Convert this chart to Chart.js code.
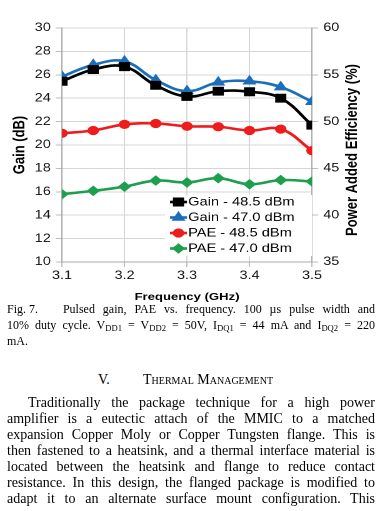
<!DOCTYPE html>
<html>
<head>
<meta charset="utf-8">
<script src="https://cdn.jsdelivr.net/npm/chart.js@4.4.0/dist/chart.umd.min.js"></script>
<style>
  html, body { margin: 0; padding: 0; background: #fff; }
  body { width: 391px; height: 511px; position: relative; overflow: hidden; }
  /* the figure in the scan is stretched sideways, so the chart is drawn narrow and widened */
  #chartBox { position: absolute; left: 0; top: 0; width: 313px; height: 305px; transform: scaleX(1.25); transform-origin: 0 0; }
  .txt { position: absolute; left: 7px; width: 368px; font-family: "Liberation Serif", "Times New Roman", serif; color: #000; }
  .caption { top: 301px; font-size: 12px; line-height: 16px; }
  .body { top: 395px; font-size: 14px; line-height: 16px; }
  .line { text-align: justify; text-align-last: justify; }
  .first { padding-left: 21px; }
  .left { text-align: left; text-align-last: left; }
  .fig { display: inline-block; width: 48px; text-align: left; text-align-last: left; white-space: nowrap; }
  sub { font-size: 0.72em; vertical-align: -0.22em; line-height: 0; }
  .head { position: absolute; top: 372px; font-family: "Liberation Serif", "Times New Roman", serif; font-size: 14px; line-height: 16px; }
  .sc { font-variant: small-caps; }
</style>
</head>
<body>
<div id="chartBox"><canvas id="gainChart"></canvas></div>

<div class="txt caption">
  <div class="line"><span class="fig">Fig. 7.</span> Pulsed gain, PAE vs. frequency. 100 µs pulse width and</div>
  <div class="line">10% duty cycle. V<sub>DD1</sub> = V<sub>DD2</sub> = 50V, I<sub>DQ1</sub> = 44 mA and I<sub>DQ2</sub> = 220</div>
  <div class="line left">mA.</div>
</div>

<div class="head" style="left:98px;">V.</div>
<div class="head sc" style="left:143px;">Thermal Management</div>

<div class="txt body">
  <div class="line first">Traditionally the package technique for a high power</div>
  <div class="line">amplifier is a eutectic attach of the MMIC to a matched</div>
  <div class="line">expansion Copper Moly or Copper Tungsten flange. This is</div>
  <div class="line">then fastened to a heatsink, and a thermal interface material is</div>
  <div class="line">located between the heatsink and flange to reduce contact</div>
  <div class="line">resistance. In this design, the flanged package is modified to</div>
  <div class="line">adapt it to an alternate surface mount configuration. This</div>
</div>

<script>
// Data
const freqs = [3.1, 3.15, 3.2, 3.25, 3.3, 3.35, 3.4, 3.45, 3.5];
const gain485 = [25.45, 26.45, 26.7, 25.1, 24.15, 24.6, 24.55, 24.0, 21.7];
const gain470 = [25.85, 26.85, 27.15, 25.55, 24.6, 25.35, 25.45, 24.95, 23.7];
const pae485 = [48.75, 49.05, 49.7, 49.8, 49.5, 49.45, 49.05, 49.2, 46.9];
const pae470 = [42.25, 42.6, 43.05, 43.7, 43.5, 43.95, 43.3, 43.75, 43.6];
const seriesLabels = ['Gain - 48.5 dBm', 'Gain - 47.0 dBm', 'PAE - 48.5 dBm', 'PAE - 47.0 dBm'];
const freqRange = [3.1, 3.5];
const gainRange = [10, 30];
const paeRange = [35, 60];
const rightTitle = 'Power Added Efficiency (%)';

Chart.defaults.font.family = '"Liberation Sans", Arial, sans-serif';
Chart.defaults.color = '#111';

function toPoints(values) {
  return values.map((v, i) => ({ x: freqs[i], y: v }));
}

function series(label, values, color, style, radius, axis) {
  return {
    label: label,
    data: toPoints(values),
    yAxisID: axis,
    borderColor: color,
    backgroundColor: color,
    borderWidth: 2.6,
    tension: 0.4,
    pointStyle: style,
    pointRadius: radius,
    pointBorderWidth: 1,
    pointBackgroundColor: color,
    pointBorderColor: color
  };
}

// Legend box sitting inside the plot, bottom right
const insideLegend = {
  id: 'insideLegend',
  afterDatasetsDraw(chart) {
    const ctx = chart.ctx;
    const area = chart.chartArea;
    ctx.save();
    ctx.fillStyle = '#fff';
    ctx.fillRect(132, 195, area.right - 132, 61);
    chart.data.datasets.forEach((ds, i) => {
      const y = 202 + i * 15.5;
      ctx.strokeStyle = ds.borderColor;
      ctx.fillStyle = ds.backgroundColor;
      ctx.lineWidth = 2.6;
      ctx.beginPath();
      ctx.moveTo(136, y);
      ctx.lineTo(149.6, y);
      ctx.stroke();
      ctx.lineWidth = 1;
      Chart.helpers.drawPoint(ctx, { pointStyle: ds.pointStyle, radius: ds.pointRadius, borderWidth: 1, rotation: 0 }, 142.8, y);
      ctx.fillStyle = '#000';
      ctx.font = '11.7px "Liberation Sans", Arial, sans-serif';
      ctx.textBaseline = 'middle';
      ctx.textAlign = 'left';
      ctx.fillText(ds.label, 150.5, y + 0.5);
    });
    // right axis title reads bottom to top
    ctx.translate(282, 150);
    ctx.rotate(-Math.PI / 2);
    ctx.font = 'bold 13px "Liberation Sans", Arial, sans-serif';
    ctx.textAlign = 'center';
    ctx.textBaseline = 'middle';
    ctx.fillStyle = '#000';
    ctx.fillText(rightTitle, 0, 0);
    ctx.restore();
  }
};

new Chart(document.getElementById('gainChart'), {
  type: 'line',
  data: {
    datasets: [
      series(seriesLabels[0], gain485, '#000000', 'rect', 5.6, 'y'),
      series(seriesLabels[1], gain470, '#1b6fba', 'triangle', 5.5, 'y'),
      series(seriesLabels[2], pae485, '#ee1c1c', 'circle', 4.1, 'y1'),
      series(seriesLabels[3], pae470, '#1e9f4e', 'rectRot', 4.6, 'y1')
    ]
  },
  options: {
    responsive: true,
    maintainAspectRatio: false,
    animation: false,
    devicePixelRatio: 2,
    layout: { padding: { top: 28, left: 0, right: 0, bottom: 0 } },
    plugins: {
      legend: { display: false },
      tooltip: { enabled: false }
    },
    scales: {
      x: {
        type: 'linear',
        min: freqRange[0],
        max: freqRange[1],
        afterFit(scale) { scale.height = 43; },
        ticks: {
          stepSize: 0.1,
          padding: 2,
          font: { size: 11.5 },
          callback: function(value) { return value.toFixed(1); }
        },
        grid: { color: '#d6d6d6', tickColor: '#bdbdbd', tickLength: 5 },
        border: { color: '#a8a8a8' },
        title: {
          display: true,
          text: 'Frequency (GHz)',
          color: '#000',
          font: { size: 10.5, weight: 'bold' },
          padding: { top: 0, bottom: 1.7 }
        }
      },
      y: {
        position: 'left',
        min: gainRange[0],
        max: gainRange[1],
        afterFit(scale) { scale.width = 49.6; },
        ticks: { stepSize: 2, padding: 4, font: { size: 11.5 } },
        grid: { color: '#d6d6d6', tickColor: '#bdbdbd', tickLength: 5 },
        border: { color: '#a8a8a8' },
        title: {
          display: true,
          text: 'Gain (dB)',
          color: '#000',
          font: { size: 13, weight: 'bold' },
          padding: { top: 8.2, bottom: 0 }
        }
      },
      y1: {
        position: 'right',
        min: paeRange[0],
        max: paeRange[1],
        afterFit(scale) { scale.width = 63.4; },
        ticks: { stepSize: 5, padding: 4, font: { size: 11.5 } },
        grid: { drawOnChartArea: false, tickColor: '#bdbdbd', tickLength: 5 },
        border: { color: '#a8a8a8' }
      }
    }
  },
  plugins: [insideLegend]
});
</script>
</body>
</html>
